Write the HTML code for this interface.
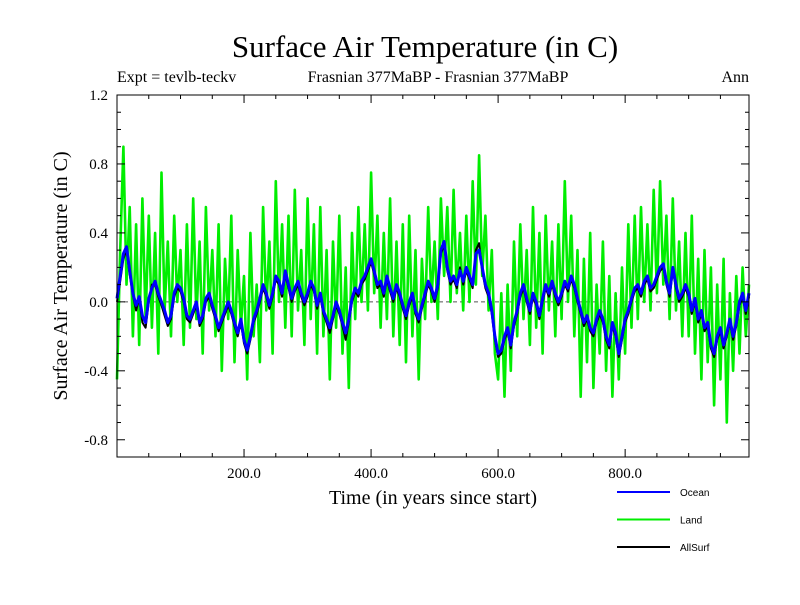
<!DOCTYPE html>
<html><head><meta charset="utf-8"><style>
body{margin:0;background:#fff}
svg text{font-family:"Liberation Serif",serif}
</style></head><body>
<svg id="c" width="800" height="600" viewBox="0 0 800 600" xmlns="http://www.w3.org/2000/svg">
<rect width="800" height="600" fill="#fff"/>
<text x="425" y="57" font-size="31" text-anchor="middle">Surface Air Temperature (in C)</text>
<text x="117" y="82" font-size="16">Expt = tevlb-teckv</text>
<text x="438" y="82" font-size="16" text-anchor="middle">Frasnian 377MaBP - Frasnian 377MaBP</text>
<text x="749" y="82" font-size="16" text-anchor="end">Ann</text>
<text x="433" y="504" font-size="20" text-anchor="middle">Time (in years since start)</text>
<text transform="translate(67,276) rotate(-90)" font-size="20" text-anchor="middle">Surface Air Temperature (in C)</text>
<g id="plot"></g>
<g id="axes"></g>
<g id="legend"></g>
</svg>
<script>
const years0 = 0, yearStep = 5;
const xTicks = [200, 400, 600, 800];
const yTicks = [-0.8, -0.4, 0.0, 0.4, 0.8, 1.2];
const ocean = [0.02,0.15,0.28,0.32,0.18,0.05,-0.02,0.03,-0.08,-0.12,0.02,0.08,0.12,0.05,0.0,-0.05,-0.12,-0.08,0.05,0.1,
0.08,0.02,-0.08,-0.1,-0.05,0.0,-0.12,-0.08,0.02,0.05,-0.02,-0.08,-0.15,-0.1,-0.05,0.0,-0.05,-0.12,-0.18,-0.1,
-0.22,-0.28,-0.2,-0.1,-0.05,0.02,0.1,0.05,-0.02,0.05,0.15,0.12,0.05,0.18,0.1,0.02,0.08,0.12,0.05,0.0,
0.05,0.12,0.08,-0.02,0.05,-0.05,-0.1,-0.15,-0.08,0.0,-0.05,-0.12,-0.18,-0.1,0.02,0.08,0.05,0.12,0.15,0.2,
0.25,0.18,0.1,0.12,0.05,0.15,0.08,0.02,0.1,0.05,-0.02,-0.08,0.0,0.05,-0.05,-0.1,-0.02,0.05,0.12,0.08,
0.02,0.1,0.3,0.35,0.2,0.12,0.15,0.1,0.18,0.12,0.2,0.15,0.1,0.28,0.3,0.2,0.1,0.05,-0.05,-0.2,
-0.3,-0.28,-0.2,-0.15,-0.25,-0.12,-0.05,0.05,0.1,0.02,-0.05,0.05,0.0,-0.08,0.02,0.1,0.05,0.12,0.05,0.0,
0.05,0.12,0.08,0.15,0.1,0.02,-0.05,-0.12,-0.08,-0.15,-0.18,-0.1,-0.05,-0.1,-0.2,-0.25,-0.12,-0.18,-0.3,-0.2,
-0.1,-0.05,0.02,0.08,0.1,0.05,0.12,0.15,0.08,0.1,0.15,0.2,0.22,0.12,0.05,0.2,0.1,0.02,0.05,0.1,
0.05,-0.05,0.02,-0.1,-0.05,-0.15,-0.12,-0.25,-0.3,-0.2,-0.15,-0.25,-0.18,-0.1,-0.2,-0.12,0.0,0.05,-0.05,0.05];
const allSurf = [0.0,0.12,0.25,0.3,0.16,0.04,-0.05,0.02,-0.12,-0.15,0.0,0.1,0.1,0.03,-0.02,-0.08,-0.14,-0.1,0.03,0.08,
0.06,0.0,-0.1,-0.12,-0.07,-0.02,-0.14,-0.1,0.0,0.03,-0.04,-0.1,-0.17,-0.12,-0.07,-0.02,-0.07,-0.14,-0.2,-0.12,
-0.24,-0.3,-0.22,-0.12,-0.07,0.0,0.08,0.03,-0.04,0.03,0.13,0.1,0.03,0.16,0.08,0.0,0.06,0.1,0.03,-0.02,
0.03,0.1,0.06,-0.04,0.03,-0.07,-0.12,-0.18,-0.1,-0.02,-0.07,-0.14,-0.22,-0.12,0.0,0.06,0.03,0.1,0.13,0.18,
0.23,0.16,0.08,0.1,0.03,0.13,0.06,0.0,0.08,0.03,-0.04,-0.1,-0.02,0.03,-0.07,-0.12,-0.04,0.03,0.1,0.06,
0.0,0.08,0.28,0.33,0.18,0.1,0.13,0.08,0.2,0.1,0.18,0.13,0.08,0.3,0.34,0.18,0.08,0.03,-0.07,-0.22,
-0.32,-0.3,-0.22,-0.17,-0.27,-0.14,-0.07,0.03,0.08,0.0,-0.07,0.03,-0.02,-0.1,0.0,0.08,0.03,0.1,0.03,-0.02,
0.03,0.1,0.06,0.13,0.08,0.0,-0.07,-0.14,-0.1,-0.17,-0.2,-0.12,-0.07,-0.12,-0.22,-0.27,-0.14,-0.2,-0.32,-0.22,
-0.12,-0.07,0.0,0.06,0.08,0.03,0.1,0.13,0.06,0.08,0.13,0.18,0.2,0.1,0.03,0.18,0.08,0.0,0.03,0.08,
0.03,-0.07,0.0,-0.12,-0.07,-0.17,-0.14,-0.27,-0.32,-0.22,-0.17,-0.27,-0.2,-0.12,-0.22,-0.14,-0.02,0.03,-0.07,0.03];
const land = [-0.45,0.3,0.9,0.1,0.55,-0.2,0.45,-0.25,0.6,-0.1,0.5,-0.15,0.4,-0.3,0.75,-0.05,0.35,-0.2,0.5,0.0,
0.3,-0.25,0.45,-0.15,0.6,-0.1,0.35,-0.3,0.55,-0.05,0.3,-0.2,0.45,-0.4,0.25,-0.1,0.5,-0.35,0.3,-0.15,
0.15,-0.45,0.4,-0.2,0.1,-0.35,0.55,-0.05,0.35,-0.3,0.7,0.0,0.45,-0.15,0.5,-0.2,0.65,-0.05,0.3,-0.25,
0.6,-0.1,0.45,-0.3,0.55,-0.2,0.3,-0.45,0.35,-0.15,0.5,-0.3,0.2,-0.5,0.4,-0.1,0.55,0.0,0.45,-0.05,
0.75,0.05,0.5,-0.15,0.4,-0.1,0.6,-0.2,0.35,-0.25,0.45,-0.35,0.5,-0.2,0.3,-0.45,0.25,-0.1,0.55,0.0,
0.35,-0.1,0.6,0.15,0.55,0.0,0.65,0.05,0.4,-0.05,0.5,0.0,0.7,0.1,0.85,0.15,0.5,-0.05,0.3,-0.3,
-0.45,0.05,-0.55,0.1,-0.4,0.35,-0.2,0.45,-0.1,0.3,-0.25,0.55,-0.15,0.4,-0.3,0.5,-0.05,0.35,-0.2,0.45,
-0.1,0.7,0.0,0.5,-0.2,0.3,-0.55,0.25,-0.35,0.4,-0.5,0.1,-0.3,0.35,-0.4,0.15,-0.55,0.05,-0.45,0.2,
-0.3,0.45,-0.15,0.5,-0.1,0.55,0.0,0.45,-0.05,0.65,0.05,0.7,0.1,0.5,-0.1,0.6,-0.05,0.35,-0.2,0.4,
-0.2,0.5,-0.3,0.25,-0.45,0.3,-0.35,0.2,-0.6,0.1,-0.45,0.25,-0.7,0.05,-0.4,0.15,-0.3,0.2,-0.2,0.1];
const legendNames = ["Ocean", "Land", "AllSurf"];

const NS = "http://www.w3.org/2000/svg";
const L = 117, R = 749, T = 95, B = 457;
const xMin = 0, xMax = 995, yMin = -0.9, yMax = 1.2;
const xs = v => L + (v - xMin) / (xMax - xMin) * (R - L);
const ys = v => B - (v - yMin) / (yMax - yMin) * (B - T);
function mk(tag, attrs, parent) { const e = document.createElementNS(NS, tag); for (const k in attrs) e.setAttribute(k, attrs[k]); parent.appendChild(e); return e; }
const plot = document.getElementById('plot'), axes = document.getElementById('axes'), legend = document.getElementById('legend');

const zl = mk('line', {x1: L, x2: R, y1: ys(0), y2: ys(0), stroke: '#555', 'stroke-dasharray': '4,3', 'stroke-width': 1}, plot);



function series(arr, color, w, name) {
  const d = arr.map((v, i) => (i ? 'L' : 'M') + xs(years0 + i * yearStep).toFixed(1) + ',' + ys(v).toFixed(1)).join('');
  const p = mk('path', {d: d, fill: 'none', stroke: color, 'stroke-width': w, 'stroke-linejoin': 'round'}, plot);
  
  
}
series(land, '#00ee00', 2.6, 'land-series');
series(allSurf, '#000', 2, 'allsurf-series');
series(ocean, '#0000ff', 3, 'ocean-series');

const frame = mk('rect', {x: L, y: T, width: R - L, height: B - T, fill: 'none', stroke: '#000', 'stroke-width': 1}, axes);



for (let v = 50; v < xMax; v += 50) {
  const major = v % 200 === 0, len = major ? 8 : 4, x = xs(v);
  const t1 = mk('line', {x1: x, x2: x, y1: B, y2: B - len, stroke: '#000'}, axes);
  
  
  const t2 = mk('line', {x1: x, x2: x, y1: T, y2: T + len, stroke: '#000'}, axes);
  
  
}
xTicks.forEach(v => {
  const t = mk('text', {x: xs(v), y: 478, 'font-size': 15, 'text-anchor': 'middle'}, axes);
  t.textContent = v.toFixed(1);
  
  
});
for (let k = -8; k <= 11; k++) {
  const v = k / 10, major = k % 4 === 0, len = major ? 8 : 4, y = ys(v);
  const t1 = mk('line', {x1: L, x2: L + len, y1: y, y2: y, stroke: '#000'}, axes);
  
  
  const t2 = mk('line', {x1: R, x2: R - len, y1: y, y2: y, stroke: '#000'}, axes);
  
  
}
yTicks.forEach(v => {
  const t = mk('text', {x: 108, y: ys(v) + 5, 'font-size': 15, 'text-anchor': 'end'}, axes);
  t.textContent = v.toFixed(1);
  
  
});

const legColors = ['#0000ff', '#00ee00', '#000'];
legendNames.forEach((n, i) => {
  const y = 492 + i * 27.5;
  const ln = mk('line', {x1: 617, x2: 670, y1: y, y2: y, stroke: legColors[i], 'stroke-width': 2}, legend);
  
  
  const t = mk('text', {x: 680, y: y + 4, 'font-size': 10, style: 'font-family:"Liberation Sans",sans-serif'}, legend);
  t.textContent = n;
  
  
});
</script>
</body></html>
